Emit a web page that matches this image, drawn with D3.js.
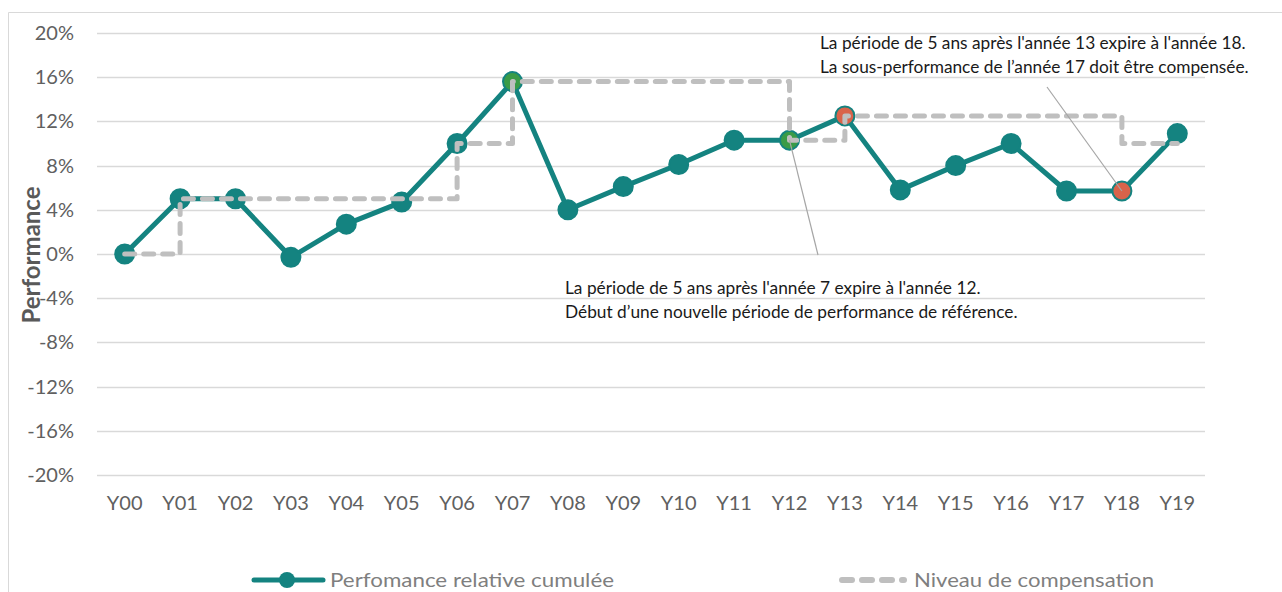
<!DOCTYPE html>
<html>
<head>
<meta charset="utf-8">
<script src="https://cdn.jsdelivr.net/npm/d3@7"></script>
<style>
  body { margin: 0; background: #fff; }
  text { font-family: Lato, "Open Sans", sans-serif; }
</style>
</head>
<body>
<div id="chart"></div>
<script>
var years        =   ['Y00','Y01','Y02','Y03','Y04','Y05','Y06','Y07','Y08','Y09',
                      'Y10','Y11','Y12','Y13','Y14','Y15','Y16','Y17','Y18','Y19'];
var performance  =   [0, 5.0, 5.0, -0.3, 2.7, 4.7, 10.0, 15.6, 4.0, 6.1,
                      8.1, 10.3, 10.3, 12.5, 5.8, 8.0, 10.0, 5.7, 5.7, 10.9];
var compensation =   [0, 5.0, 5.0, 5.0, 5.0, 5.0, 10.0, 15.6, 15.6, 15.6,
                      15.6, 15.6, 10.3, 12.5, 12.5, 12.5, 12.5, 12.5, 10.0, 10.0];
var y_ticks      =   [-20, -16, -12, -8, -4, 0, 4, 8, 12, 16, 20];
// highlighted markers
var green_points =   ['Y07', 'Y12'];
var red_points   =   ['Y13', 'Y18'];

var chart_width  =   1282;
var chart_height =   592;
var teal         =   '#148380';

var svg          =   d3.select('#chart')
    .append('svg')
    .attr('width', chart_width)
    .attr('height', chart_height);

// frame
svg.append('path')
    .attr('d', 'M8.5,' + chart_height + 'V12.5H' + chart_width)
    .attr('fill', 'none')
    .attr('stroke', '#d9d9d9')
    .attr('stroke-width', 1);

// Scales
var x_scale      =   d3.scaleBand()
    .domain(years)
    .range([97, 1205]);

var y_scale      =   d3.scaleLinear()
    .domain([-20, 20])
    .range([475, 33]);

function cx(d) { return x_scale(d) + x_scale.bandwidth() / 2; }

// gridlines
svg.append('g')
    .selectAll('line')
    .data(y_ticks)
    .enter()
    .append('line')
    .attr('x1', 97)
    .attr('x2', 1205)
    .attr('y1', function(d){ return Math.round(y_scale(d)) + 0.5; })
    .attr('y2', function(d){ return Math.round(y_scale(d)) + 0.5; })
    .attr('stroke', '#d9d9d9')
    .attr('stroke-width', 1.3);

// Y axis
var y_axis       =   d3.axisLeft(y_scale)
    .tickValues(y_ticks)
    .tickSize(0)
    .tickPadding(0)
    .tickFormat(function(d){ return d + '%'; });

svg.append('g')
    .attr('class', 'y-axis')
    .attr('transform', 'translate(74,0)')
    .call(y_axis)
    .call(function(g){
        g.select('.domain').remove();
        g.selectAll('text')
            .attr('fill', '#606060')
            .attr('font-size', 20);
    });

// X axis
var x_axis       =   d3.axisBottom(x_scale).tickSize(0).tickPadding(0);

svg.append('g')
    .attr('class', 'x-axis')
    .attr('transform', 'translate(0,496)')
    .call(x_axis)
    .call(function(g){
        g.select('.domain').remove();
        g.selectAll('text')
            .attr('fill', '#606060')
            .attr('font-size', 20);
    });

// axis title
svg.append('text')
    .attr('transform', 'translate(40,255) rotate(-90)')
    .attr('text-anchor', 'middle')
    .attr('font-size', 24)
    .attr('font-weight', 'bold')
    .attr('fill', '#595959')
    .text('Performance');

// performance line
var line_perf    =   d3.line()
    .x(function(d, i){ return cx(years[i]); })
    .y(function(d){ return y_scale(d); });

svg.append('path')
    .datum(performance)
    .attr('d', line_perf)
    .attr('fill', 'none')
    .attr('stroke', teal)
    .attr('stroke-width', 5)
    .attr('stroke-linejoin', 'round');

svg.append('g')
    .selectAll('circle')
    .data(performance)
    .enter()
    .append('circle')
    .attr('cx', function(d, i){ return cx(years[i]); })
    .attr('cy', function(d){ return y_scale(d); })
    .attr('r', 9.5)
    .attr('fill', function(d, i){
        if (green_points.indexOf(years[i]) >= 0) return '#3a9b47';
        if (red_points.indexOf(years[i]) >= 0) return '#d9634a';
        return teal;
    })
    .attr('stroke', teal)
    .attr('stroke-width', 2);

// compensation step line
var line_comp    =   d3.line()
    .x(function(d, i){ return cx(years[i]); })
    .y(function(d){ return y_scale(d); })
    .curve(d3.curveStepAfter);

svg.append('path')
    .datum(compensation)
    .attr('d', line_comp)
    .attr('fill', 'none')
    .attr('stroke', '#bfbfbf')
    .attr('stroke-width', 5)
    .attr('stroke-dasharray', '10,9')
    .attr('stroke-linecap', 'round')
    .attr('stroke-linejoin', 'round');

// annotations
var notes        =   [
    { lines: ["La période de 5 ans après l'année 13 expire à l'année 18.",
              "La sous-performance de l’année 17 doit être compensée."],
      x: 820, y: 49, from: [1047, 87], to: 'Y18' },
    { lines: ["La période de 5 ans après l'année 7 expire à l'année 12.",
              "Début d’une nouvelle période de performance de référence."],
      x: 565, y: 294, from: [818, 255], to: 'Y12' }
];

notes.forEach(function(n){
    var target = years.indexOf(n.to);
    svg.append('line')
        .attr('x1', n.from[0])
        .attr('y1', n.from[1])
        .attr('x2', cx(n.to))
        .attr('y2', y_scale(performance[target]))
        .attr('stroke', '#a6a6a6')
        .attr('stroke-width', 1.2);
    var t = svg.append('text')
        .attr('x', n.x)
        .attr('y', n.y)
        .attr('font-size', 17.3)
        .attr('fill', '#1a1a1a');
    n.lines.forEach(function(l, k){
        t.append('tspan')
            .attr('x', n.x)
            .attr('dy', k === 0 ? 0 : 24)
            .text(l);
    });
});

// legend
var legend       =   svg.append('g').attr('transform', 'translate(0,580)');

legend.append('line')
    .attr('x1', 254).attr('x2', 323)
    .attr('y1', 0).attr('y2', 0)
    .attr('stroke', teal)
    .attr('stroke-width', 5)
    .attr('stroke-linecap', 'round');
legend.append('circle')
    .attr('cx', 287).attr('cy', 0).attr('r', 8)
    .attr('fill', teal);
legend.append('text')
    .attr('x', 330).attr('y', 7)
    .attr('font-size', 20)
    .attr('fill', '#7f7f7f')
    .attr('textLength', 284)
    .attr('lengthAdjust', 'spacingAndGlyphs')
    .text('Perfomance relative cumulée');

legend.append('line')
    .attr('x1', 842).attr('x2', 904)
    .attr('y1', 0).attr('y2', 0)
    .attr('stroke', '#bfbfbf')
    .attr('stroke-width', 6)
    .attr('stroke-dasharray', '10,10')
    .attr('stroke-linecap', 'round');
legend.append('text')
    .attr('x', 914).attr('y', 7)
    .attr('font-size', 20)
    .attr('fill', '#7f7f7f')
    .attr('textLength', 240)
    .attr('lengthAdjust', 'spacingAndGlyphs')
    .text('Niveau de compensation');
</script>
</body>
</html>
